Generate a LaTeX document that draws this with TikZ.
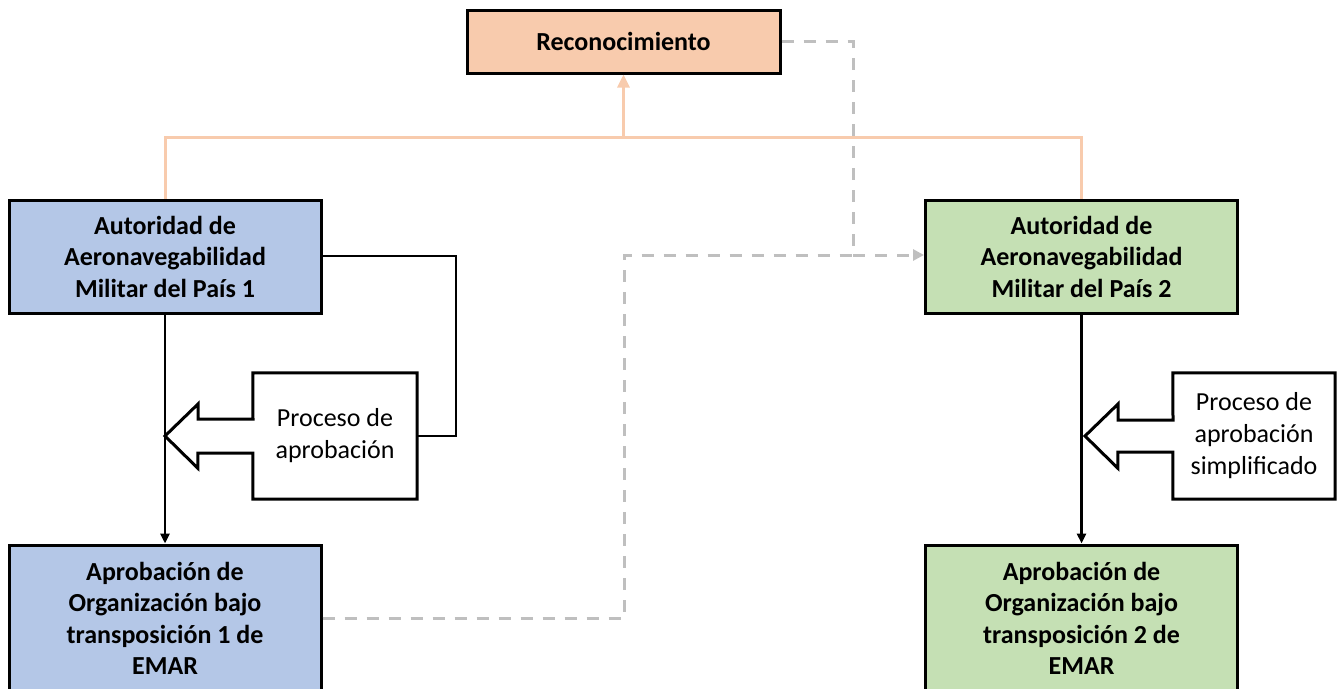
\documentclass[tikz,border=0pt]{standalone}
\usepackage{fontspec}
\setmainfont{Carlito}
\usetikzlibrary{arrows.meta}
\definecolor{bluefill}{HTML}{B4C7E7}
\definecolor{greenfill}{HTML}{C5E0B4}
\definecolor{orangefill}{HTML}{F8CBAD}
\definecolor{orangeline}{HTML}{F8CBAD}
\definecolor{grayline}{HTML}{BFBFBF}
\tikzset{
  mainbox/.style={draw=black, line width=3pt, minimum width=312pt, inner sep=0pt,
     align=center, font=\fontsize{26}{31.5}\selectfont\bfseries},
  procbox/.style={minimum width=164pt, minimum height=126pt, inner sep=0pt, align=center,
     font=\fontsize{26}{32}\selectfont},
  blackconn/.style={draw=black, line width=2.5pt},
  orangeconn/.style={draw=orangeline, line width=3pt},
  grayconn/.style={draw=grayline, line width=3pt, dash pattern=on 12pt off 10pt},
  callout/.style={draw=black, line width=3pt, fill=white, line join=miter}
}
\begin{document}
\begin{tikzpicture}[x=1pt,y=-1pt]
\useasboundingbox (0,0) rectangle (1337,688);
% main boxes
\node[mainbox, fill=orangefill, minimum width=313pt, minimum height=63pt] (rec) at (623.5,41.5) {Reconocimiento};
\node[mainbox, fill=bluefill, minimum height=113pt] (a1) at (165,256.5) {Autoridad de\\Aeronavegabilidad\\Militar del País 1};
\node[mainbox, fill=greenfill, minimum height=113pt] (a2) at (1081.5,256.5) {Autoridad de\\Aeronavegabilidad\\Militar del País 2};
\node[mainbox, fill=bluefill, minimum height=147pt] (o1) at (165,618.5) {Aprobación de\\Organización bajo\\transposición 1 de\\EMAR};
\node[mainbox, fill=greenfill, minimum height=147pt] (o2) at (1081.5,618.5) {Aprobación de\\Organización bajo\\transposición 2 de\\EMAR};
% orange connectors
\coordinate (oL) at (165,137);
\coordinate (oR) at (1081.5,137);
\coordinate (oM) at (623.5,137);
\draw[orangeconn] (a1.north) -- (oL) -- (oR) -- (a2.north);
\draw[orangeconn, -{Triangle[width=12pt,length=13pt]}] (oM) -- (rec.south);
% black vertical arrows
\draw[blackconn, -{Triangle[width=9pt,length=10pt]}] (a1.south) -- (o1.north);
\draw[blackconn, -{Triangle[width=9pt,length=10pt]}] (a2.south) -- (o2.north);
% process callout 1
\node[procbox] (p1) at (335,436) {};
\draw[callout] (p1.north west) -- (p1.north east) -- (p1.south east) -- (p1.south west)
  -- ++(0,-46) -- ++(-55,0) -- ++(0,15) -- (165,436) -- ++(33,-32) -- ++(0,15) -- ++(55,0) -- cycle;
\node[procbox] at (p1.center) {Proceso de\\aprobación};
\coordinate (b1) at (456,256);
\draw[blackconn] (a1.east |- b1) -- (b1) -- (b1 |- p1.east) -- (p1.east);
% process callout 2
\node[procbox, minimum width=162pt] (p2) at (1254,436) {};
\draw[callout] (p2.north west) -- (p2.north east) -- (p2.south east) -- (p2.south west)
  -- ++(0,-47) -- ++(-55,0) -- ++(0,16) -- (1085,436) -- ++(33,-32) -- ++(0,16) -- ++(55,0) -- cycle;
\node[procbox] at (p2.center) {Proceso de\\aprobación\\simplificado};
% gray dashed connectors
\coordinate (g1) at (853,41.5);
\coordinate (g2) at (853,255);
\coordinate (g3) at (624,255);
\coordinate (g4) at (624,618);
\draw[grayconn] (rec.east) -- (g1) -- (g2);
\draw[grayconn] (o1.east |- g4) -- (g4) -- (g3) -- (g2);
\draw[grayconn, -{Triangle[width=11pt,length=11pt]}] (g2) -- (a2.west |- g2);
\end{tikzpicture}
\end{document}
